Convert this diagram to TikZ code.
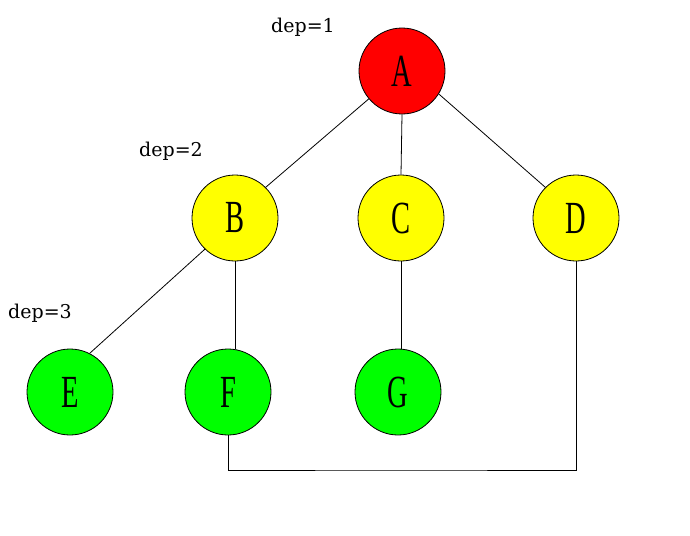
\documentclass[tikz,border=0pt]{standalone}
\usepackage{fontspec}
\setmainfont{Liberation Serif}
\newfontfamily\depfont{DejaVu Serif}
\usepackage{tikz}
\usetikzlibrary{positioning}
\definecolor{nodered}{HTML}{FF0000}
\definecolor{nodeyellow}{HTML}{FFFF00}
\definecolor{nodegreen}{HTML}{00FF00}
\tikzset{
  vertex/.style={circle,draw=black,line width=0.8pt,minimum size=86pt,inner sep=0pt,
    font=\fontsize{46}{46}\selectfont},
  deplabel/.style={font=\depfont\fontsize{19}{19}\selectfont,inner sep=0pt},
  edge/.style={draw=black,line width=0.8pt}
}
\newcommand{\letter}[1]{\scalebox{0.62}[1]{#1}}

\begin{document}
\begin{tikzpicture}[x=1pt,y=-1pt]
\useasboundingbox (0,0) rectangle (690,535);
\node[vertex,fill=nodered] (A) at (402,71) {\letter{A}};
\node[vertex,fill=nodeyellow] (B) at (235,218) {\letter{B}};
\node[vertex,fill=nodeyellow] (C) at (401,218) {\letter{C}};
\node[vertex,fill=nodeyellow] (D) at (576,218) {\letter{D}};
\node[vertex,fill=nodegreen] (E) at (70,392) {\letter{E}};
\node[vertex,fill=nodegreen] (F) at (228,392) {\letter{F}};
\node[vertex,fill=nodegreen] (G) at (398,392) {\letter{G}};
\node[deplabel] (d1) at (303,27) {dep=1};
\node[deplabel] (d2) at (171,151) {dep=2};
\node[deplabel] (d3) at (40,313) {dep=3};
\coordinate (base) at (400,470);
% tree edges
\draw[edge] (A.220) -- (B.45); \draw[edge] (A.south) -- (C.north); \draw[edge] (A.328) -- (D.135);
\draw[edge] (B.226) -- (E.63);
\draw[edge] (B.south) -- (B.south |- F.north); \draw[edge] (C.south) -- (C.south |- G.north);
\draw[edge] (F.south) |- (base) -| (D.south);
\end{tikzpicture}
\end{document}
